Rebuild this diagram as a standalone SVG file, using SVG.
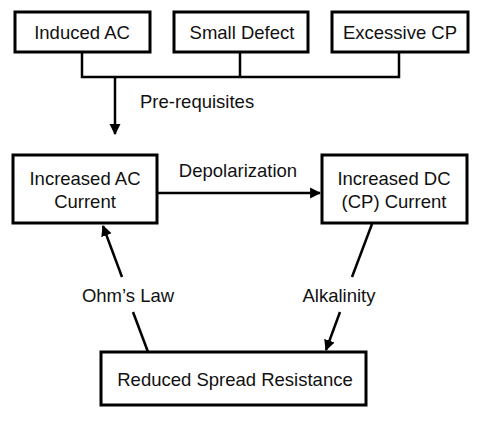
<svg xmlns="http://www.w3.org/2000/svg" width="486" height="430" viewBox="0 0 486 430">
<style>
.box{fill:#fff;stroke:#000;stroke-width:3}
.t{font-family:"Liberation Sans",Arial,sans-serif;font-size:18.5px;fill:#111;text-anchor:middle}
.c{fill:none;stroke:#000;stroke-width:2.5}
</style>
<defs>
<marker id="ah" viewBox="0 0 10 10" refX="9" refY="5" markerWidth="4.4" markerHeight="5.6" orient="auto" markerUnits="strokeWidth">
<path d="M0,0 L10,5 L0,10 z" fill="#000"/>
</marker>
</defs>
<rect width="486" height="430" fill="#fff"/>
<g id="connectors">
<path class="c" d="M82,52 V77 H399 V52 M240,52 V77"/>
<line class="c" x1="115" y1="77" x2="115" y2="134" marker-end="url(#ah)"/>
<text class="t" x="140" y="108" style="text-anchor:start">Pre-requisites</text>
<line class="c" x1="157" y1="193" x2="320" y2="193" marker-end="url(#ah)"/>
<text class="t" x="238" y="177">Depolarization</text>
<line class="c" x1="148" y1="352" x2="133" y2="312"/>
<line class="c" x1="122" y1="277" x2="103" y2="226" marker-end="url(#ah)"/>
<text class="t" x="128" y="302">Ohm’s Law</text>
<line class="c" x1="372" y1="224" x2="352" y2="277"/>
<line class="c" x1="340" y1="312" x2="326" y2="350" marker-end="url(#ah)"/>
<text class="t" x="339" y="302">Alkalinity</text>
</g>
<g id="induced-ac"><rect class="box" x="15" y="12" width="135" height="40"/><text class="t" x="82" y="39">Induced AC</text></g>
<g id="small-defect"><rect class="box" x="174" y="12" width="134" height="40"/><text class="t" x="242" y="39">Small Defect</text></g>
<g id="excessive-cp"><rect class="box" x="332" y="12" width="136" height="40"/><text class="t" x="400" y="39">Excessive CP</text></g>
<g id="increased-ac"><rect class="box" x="13" y="155" width="144" height="68"/><text class="t" x="85" y="185">Increased AC</text><text class="t" x="85" y="208">Current</text></g>
<g id="increased-dc"><rect class="box" x="322" y="155" width="145" height="68"/><text class="t" x="394" y="185">Increased DC</text><text class="t" x="394" y="208">(CP) Current</text></g>
<g id="reduced-spread"><rect class="box" x="101" y="352" width="265" height="53"/><text class="t" x="235" y="386">Reduced Spread Resistance</text></g>
</svg>
